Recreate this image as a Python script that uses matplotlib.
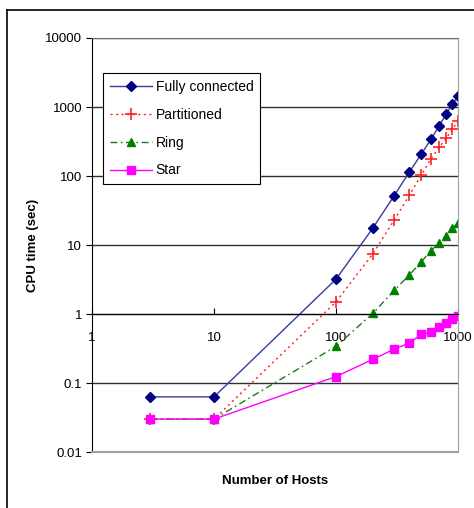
import matplotlib.pyplot as plt
from matplotlib.lines import Line2D
from matplotlib.ticker import NullLocator, FixedLocator

plt.rcParams['font.family'] = ['Liberation Sans', 'DejaVu Sans']

# Data
hosts = [3, 10, 100, 200, 300, 400, 500, 600, 700, 800, 900, 1000]
fully_connected = [0.063, 0.063, 3.2, 17.5, 52, 115, 208, 340, 530, 790, 1100, 1440]
partitioned = [0.03, 0.03, 1.5, 7.4, 23, 53, 103, 178, 260, 352, 480, 627]
ring = [0.03, 0.03, 0.34, 1.02, 2.2, 3.7, 5.7, 8.3, 10.6, 13.6, 17.5, 21]
star = [0.03, 0.03, 0.124, 0.22, 0.31, 0.38, 0.51, 0.54, 0.65, 0.75, 0.84, 0.95]

x_ticks = [1, 10, 100, 1000]
x_labels = ['1', '10', '100', '1000']
y_ticks = [0.01, 0.1, 1, 10, 100, 1000, 10000]
y_labels = ['0.01', '0.1', '1', '10', '100', '1000', '10000']

fig = plt.figure(figsize=(4.74, 5.08), dpi=100)
ax = fig.add_axes([0.1941, 0.1102, 0.7722, 0.815])

# plot the series
ax.plot(hosts, fully_connected, color='#3a3aa0', lw=1, marker='D', ms=4.8,
        mfc='#000080', mec='#000080', label='Fully connected')
ax.plot(hosts, partitioned, color='#ff2020', lw=1, ls=(0, (1.5, 2.5)), marker='+', ms=8,
        mew=1.2, mec='#ff2020', label='Partitioned')
ax.plot(hosts, ring, color='#1a7a1a', lw=1, ls=(0, (5, 2.5, 1.2, 2.5)), marker='^', ms=6,
        mfc='#008000', mec='#008000', label='Ring')
ax.plot(hosts, star, color='#ff00ff', lw=1, marker='s', ms=5.5,
        mfc='#ff00ff', mec='#ff00ff', label='Star')

ax.set_xscale('log')
ax.set_yscale('log')
ax.set_xlim(1, 1000)
ax.set_ylim(0.01, 10000)

# Excel style: x axis crosses at y = 1
ax.spines['bottom'].set_position(('data', 1))
ax.spines['bottom'].set_color('black')
ax.spines['left'].set_color('black')
ax.spines['top'].set_color('#707070')
ax.spines['right'].set_color('#a0a0a0')
ax.axhline(0.01, color='#a0a0a0', lw=1.5, clip_on=False, zorder=3)

ax.xaxis.set_major_locator(FixedLocator(x_ticks))
ax.set_xticklabels(x_labels)
ax.xaxis.set_minor_locator(NullLocator())
ax.yaxis.set_major_locator(FixedLocator(y_ticks))
ax.set_yticklabels(y_labels)
ax.yaxis.set_minor_locator(NullLocator())
ax.tick_params(axis='x', direction='in', length=4, pad=13, labelsize=9.5)
ax.tick_params(axis='y', direction='out', length=4, pad=3, labelsize=9.5)

# horizontal gridlines
ax.yaxis.grid(True, color='#303030', lw=1)
ax.set_axisbelow(True)

ax.set_xlabel('Number of Hosts', fontsize=9.5, fontweight='bold')
ax.set_ylabel('CPU time (sec)', fontsize=9.5, fontweight='bold')
ax.xaxis.set_label_coords(0.5, -0.055)
ax.yaxis.set_label_coords(-0.146, 0.5)

leg = ax.legend(loc='upper left', bbox_to_anchor=(0.03, 0.915), borderaxespad=0,
                fancybox=False, edgecolor='black', framealpha=1, fontsize=10,
                handlelength=3.0, labelspacing=0.99, borderpad=0.5, handletextpad=0.3)
leg.get_frame().set_linewidth(0.8)

# outer frame (cropped on right and bottom)
fig.add_artist(Line2D([0.0148, 0.0148], [-0.1, 0.980], color='black', lw=1.2))
fig.add_artist(Line2D([0.0148, 1.1], [0.980, 0.980], color='black', lw=1.2))

fig.savefig('out.png', dpi=100)
